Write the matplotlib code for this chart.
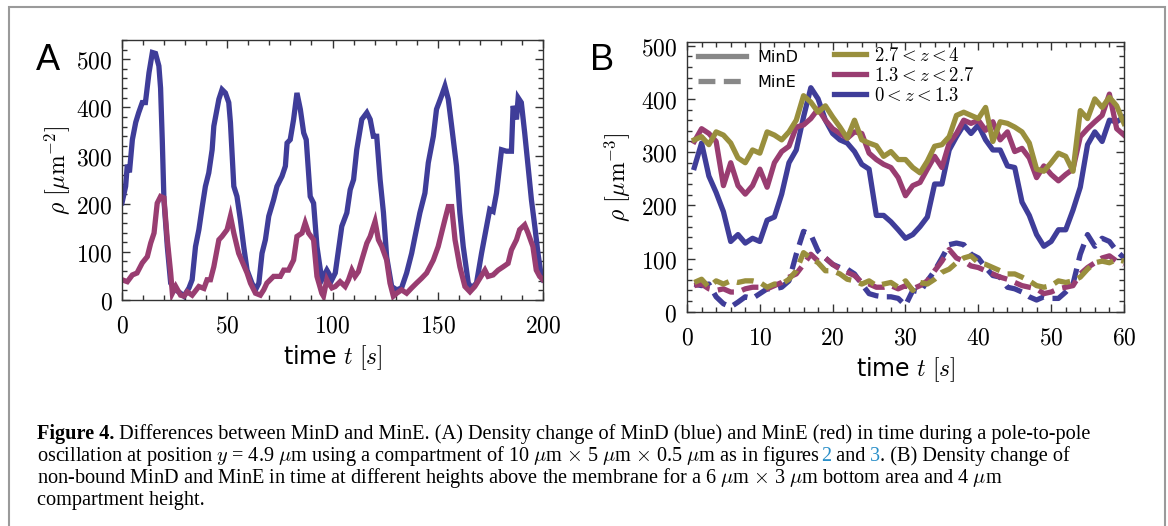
import matplotlib.pyplot as plt
from matplotlib.lines import Line2D
from matplotlib.patches import Rectangle
from matplotlib.ticker import MultipleLocator, FuncFormatter

plt.rcParams['mathtext.fontset'] = 'cm'

# ---- panel A: membrane density ----
t_a_mind = [0, 1.7, 2.5, 3.5, 4.9, 6.5, 7.9, 9.6, 11.1, 12.8, 14.4, 15.9, 17.5, 18.3, 19.1, 19.9,
            21.5, 23.1, 25.5, 27.8, 29.4, 31.8, 33.3, 34.9, 36.5, 38.1, 39.6, 41.2, 42.8, 43.6,
            46.0, 47.5, 49.1, 50.7, 51.5, 53.1, 54.6, 56.2, 57.8, 59.4, 61.7, 63.4, 65.0, 66.5,
            68.1, 69.7, 72.0, 73.6, 76.0, 77.6, 78.4, 79.9, 81.5, 83.1, 84.7, 86.3, 87.5, 89.4,
            91.0, 92.6, 94.9, 97.3, 98.1, 99.7, 101.3, 104.4, 106.8, 108.4, 110.0, 111.5, 113.9,
            116.3, 117.9, 119.4, 121.0, 122.6, 124.2, 125.7, 128.1, 130.5, 132.8, 135.2, 137.6,
            139.2, 141.5, 143.9, 145.5, 147.9, 149.4, 151.8, 153.4, 155.0, 156.6, 158.9, 160.5,
            162.1, 164.5, 166.1, 168.4, 170.8, 173.2, 174.7, 176.3, 177.9, 180.3, 182.6, 185.0,
            185.8, 187.4, 188.2, 189.7, 191.3, 192.9, 194.5, 196.1, 197.6, 199.2, 200]
rho_a_mind = [202, 236, 281, 265, 333, 369, 389, 410, 410, 472, 514, 512, 486, 440, 333, 208,
              111, 35, 21, 14, 8, 25, 42, 111, 146, 194, 236, 264, 312, 361,
              417, 437, 430, 410, 368, 236, 215, 167, 111, 62, 35, 21, 35, 97,
              125, 174, 208, 236, 257, 278, 326, 333, 375, 430, 396, 347, 333, 215,
              201, 111, 42, 62, 56, 42, 56, 153, 181, 229, 250, 312, 375,
              389, 375, 340, 340, 250, 181, 90, 28, 21, 25, 56, 97,
              132, 181, 222, 285, 340, 396, 424, 444, 417, 361, 278, 181,
              111, 35, 25, 35, 97, 153, 188, 184, 222, 312, 309, 309,
              403, 375, 420, 410, 347, 278, 208, 153, 97, 49, 42]

t_a_mine = [0, 2.5, 4.9, 7.1, 9.6, 12.0, 13.6, 15.2, 16.7, 18.3, 19.9, 21.5, 23.1, 23.9, 25.5,
            27.8, 29.4, 31.0, 33.3, 36.5, 38.9, 40.4, 42.0, 43.6, 46.0, 47.5, 49.9, 51.5, 53.1,
            55.4, 59.4, 61.0, 63.4, 65.7, 67.3, 68.8, 72.0, 75.2, 76.8, 79.1, 81.5, 83.1, 85.5,
            87.0, 88.6, 91.0, 92.6, 94.9, 95.7, 97.3, 98.1, 99.7, 101.3, 103.6, 106.0, 107.6,
            109.2, 110.7, 112.3, 113.9, 116.3, 117.9, 120.2, 121.8, 123.4, 125.7, 127.3, 128.9,
            130.5, 132.8, 135.2, 137.6, 139.9, 142.3, 144.7, 147.9, 150.2, 153.4, 155.0, 156.6,
            158.2, 160.5, 162.9, 165.3, 167.6, 170.0, 172.4, 173.9, 176.3, 178.7, 181.1, 183.4,
            185.0, 187.4, 188.9, 191.3, 192.9, 195.2, 196.8, 198.4, 200]
rho_a_mine = [42, 38, 52, 56, 77, 90, 118, 139, 201, 215, 212, 125, 56, 14, 28,
              10, 8, 17, 10, 28, 24, 42, 42, 69, 125, 132, 146, 174, 139,
              97, 56, 35, 14, 10, 21, 35, 49, 49, 62, 62, 83, 132, 139,
              160, 139, 125, 49, 14, 8, 42, 35, 25, 28, 38, 28, 42,
              62, 49, 59, 83, 118, 132, 163, 125, 111, 83, 35, 8,
              14, 21, 14, 25, 35, 45, 56, 83, 111, 167, 194, 194,
              125, 69, 28, 17, 28, 45, 62, 49, 52, 62, 69, 76,
              104, 125, 146, 156, 139, 111, 62, 49, 42]

# ---- panel B: bulk density at three heights, t = 1..60 s ----
t_b = list(range(1, 61))
mind_z0 = [271, 317, 255, 224, 188, 132, 145, 129, 138, 132, 172, 178, 221, 280, 304, 366, 421, 400, 360, 335,
           323, 317, 301, 277, 268, 181, 181, 169, 154, 138, 145, 160, 178, 240, 240, 304, 329, 351, 335, 351,
           323, 304, 304, 274, 271, 206, 181, 145, 123, 132, 154, 154, 191, 234, 314, 338, 320, 360, 357, 366]
mind_z1 = [320, 344, 335, 320, 237, 280, 237, 221, 237, 268, 234, 280, 301, 311, 347, 351, 363, 381, 360, 344,
           335, 326, 338, 335, 298, 286, 277, 271, 252, 218, 237, 243, 268, 292, 271, 317, 335, 360, 354, 360,
           341, 357, 323, 338, 301, 307, 289, 252, 274, 258, 246, 258, 268, 329, 344, 357, 369, 409, 344, 332]
mind_z2 = [323, 329, 314, 338, 332, 317, 289, 280, 304, 298, 338, 332, 323, 338, 360, 406, 394, 375, 387, 366,
           347, 326, 360, 323, 317, 312, 292, 301, 286, 286, 271, 261, 283, 311, 314, 329, 369, 375, 369, 363,
           384, 320, 357, 354, 347, 338, 317, 268, 264, 280, 298, 292, 264, 378, 363, 400, 384, 403, 387, 354]
mine_z0 = [52, 49, 52, 28, 15, 9, 18, 28, 25, 34, 43, 43, 46, 58, 108, 151, 145, 114, 101, 89,
           83, 80, 71, 52, 34, 30, 28, 28, 25, 12, 40, 37, 58, 77, 101, 126, 129, 126, 108, 101,
           83, 68, 65, 46, 43, 37, 28, 22, 28, 25, 25, 37, 52, 108, 145, 123, 138, 132, 114, 101]
mine_z1 = [49, 52, 43, 40, 43, 37, 37, 43, 46, 46, 43, 49, 55, 65, 71, 89, 108, 95, 101, 89,
           80, 74, 68, 55, 52, 46, 46, 49, 43, 49, 43, 49, 58, 77, 95, 117, 101, 95, 86, 83,
           77, 71, 65, 61, 55, 49, 46, 43, 34, 37, 43, 46, 49, 71, 83, 92, 101, 105, 95, 89]
mine_z2 = [55, 61, 46, 58, 52, 58, 55, 58, 58, 55, 46, 52, 52, 61, 77, 111, 101, 92, 77, 77,
           71, 61, 58, 52, 58, 49, 52, 55, 46, 58, 40, 55, 52, 61, 74, 80, 92, 101, 105, 92,
           89, 83, 77, 71, 71, 65, 58, 49, 46, 49, 58, 55, 58, 65, 80, 92, 95, 92, 98, 95]

height_labels = [r'$2.7 < z < 4$', r'$1.3 < z < 2.7$', r'$0 < z < 1.3$']

BLUE = '#3f3d99'
RED = '#993d71'
OLIVE = '#998f3d'
LW = 3.8

fig = plt.figure(figsize=(11.68, 5.26), dpi=100)
axA = fig.add_axes([0.1045, 0.4297, 0.3604, 0.4943])
axB = fig.add_axes([0.5882, 0.4074, 0.3741, 0.5128])


def style(ax):
    ax.tick_params(which='both', direction='in', top=True, right=True, width=1, color='#333333')
    ax.tick_params(which='major', length=6, labelsize=17)
    ax.tick_params(which='minor', length=3.5)
    ax.tick_params(axis='x', which='major', pad=10)
    ax.tick_params(axis='y', which='major', pad=7)
    for s in ax.spines.values():
        s.set_linewidth(1)
        s.set_color('#333333')
    fmt = FuncFormatter(lambda v, p: f'${v:g}$')
    ax.xaxis.set_major_formatter(fmt)
    ax.yaxis.set_major_formatter(fmt)


# panel A
axA.plot(t_a_mind, rho_a_mind, color=BLUE, lw=LW, solid_joinstyle='miter')
axA.plot(t_a_mine, rho_a_mine, color=RED, lw=LW, solid_joinstyle='miter')
axA.set_xlim(0, 200)
axA.set_ylim(0, 540)
axA.xaxis.set_major_locator(MultipleLocator(50))
axA.xaxis.set_minor_locator(MultipleLocator(10))
axA.yaxis.set_major_locator(MultipleLocator(100))
axA.yaxis.set_minor_locator(MultipleLocator(20))
style(axA)
axA.set_xlabel(r'time $t\ [s]$', fontsize=17, family='DejaVu Sans', labelpad=4)
axA.set_ylabel(r'$\rho\ \left[\mu\mathrm{m}^{-2}\right]$', fontsize=17, labelpad=2)

# panel B
for yd, ye, c in [(mind_z0, mine_z0, BLUE), (mind_z1, mine_z1, RED), (mind_z2, mine_z2, OLIVE)]:
    axB.plot(t_b, yd, color=c, lw=LW)
    axB.plot(t_b, ye, color=c, lw=LW, dashes=(3.2, 1.6))
axB.set_xlim(0, 60)
axB.set_ylim(0, 507)
axB.xaxis.set_major_locator(MultipleLocator(10))
axB.xaxis.set_minor_locator(MultipleLocator(2))
axB.yaxis.set_major_locator(MultipleLocator(100))
axB.yaxis.set_minor_locator(MultipleLocator(20))
style(axB)
axB.set_xlabel(r'time $t\ [s]$', fontsize=17, family='DejaVu Sans', labelpad=4)
axB.set_ylabel(r'$\rho\ \left[\mu\mathrm{m}^{-3}\right]$', fontsize=17, labelpad=6)

gray = '#888888'
leg1 = axB.legend([Line2D([], [], color=gray, lw=LW), Line2D([], [], color=gray, lw=LW, dashes=(3.2, 1.6))],
                  ['MinD', 'MinE'], loc='upper left', bbox_to_anchor=(0.025, 0.972), frameon=False,
                  borderpad=0, borderaxespad=0, handlelength=3.0, handletextpad=0.75,
                  labelspacing=0.65, prop={'family': 'DejaVu Sans', 'size': 11.5})
axB.add_artist(leg1)
axB.legend([Line2D([], [], color=c, lw=LW) for c in (OLIVE, RED, BLUE)], height_labels,
           loc='upper left', bbox_to_anchor=(0.336, 0.985), frameon=False, borderpad=0,
           borderaxespad=0, handlelength=1.7, handletextpad=0.45, labelspacing=0.05,
           prop={'size': 13.5})

fig.text(48 / 1168, 1 - 60 / 526, 'A', fontsize=26, family='Liberation Sans', ha='center', va='center')
fig.text(602 / 1168, 1 - 60 / 526, 'B', fontsize=26, family='Liberation Sans', ha='center', va='center')

# caption
LINK = '#2a8fc8'
CAP_FS = 14.6
cap_lines = [
    [('Figure 4.', 'k', 'bold'),
     (' Differences between MinD and MinE. (A) Density change of MinD (blue) and MinE (red) '
      'in time during a pole-to-pole', 'k', 'normal')],
    [(r'oscillation at position $y$ = 4.9 $\mu$m using a compartment of 10 $\mu$m $\times$ 5 $\mu$m '
      r'$\times$ 0.5 $\mu$m as in figures ', 'k', 'normal'),
     ('2', LINK, 'normal'), (' and ', 'k', 'normal'), ('3', LINK, 'normal'),
     ('. (B) Density change of', 'k', 'normal')],
    [(r'non-bound MinD and MinE in time at different heights above the membrane for a 6 $\mu$m '
      r'$\times$ 3 $\mu$m bottom area and 4 $\mu$m', 'k', 'normal')],
    [('compartment height.', 'k', 'normal')],
]
cap_x = 37 / 1168
cap_base = [439, 461, 483, 505]
for segs, yb in zip(cap_lines, cap_base):
    y = 1 - yb / 526
    txt, col, wt = segs[0]
    prev = fig.text(cap_x, y, txt, color=col, fontweight=wt, fontsize=CAP_FS,
                    family='Liberation Serif', va='baseline')
    for txt, col, wt in segs[1:]:
        prev = axA.annotate(txt, xy=(1, y), xycoords=(prev, 'figure fraction'), color=col,
                            fontweight=wt, fontsize=CAP_FS, family='Liberation Serif',
                            va='baseline', ha='left', annotation_clip=False)

fig.patches.append(Rectangle((9 / 1168, -0.1), 1156 / 1168, 1.1 - 7 / 526, transform=fig.transFigure,
                             fill=False, ec='#9a9a9a', lw=1.5))

fig.savefig('out.png', dpi=100)
